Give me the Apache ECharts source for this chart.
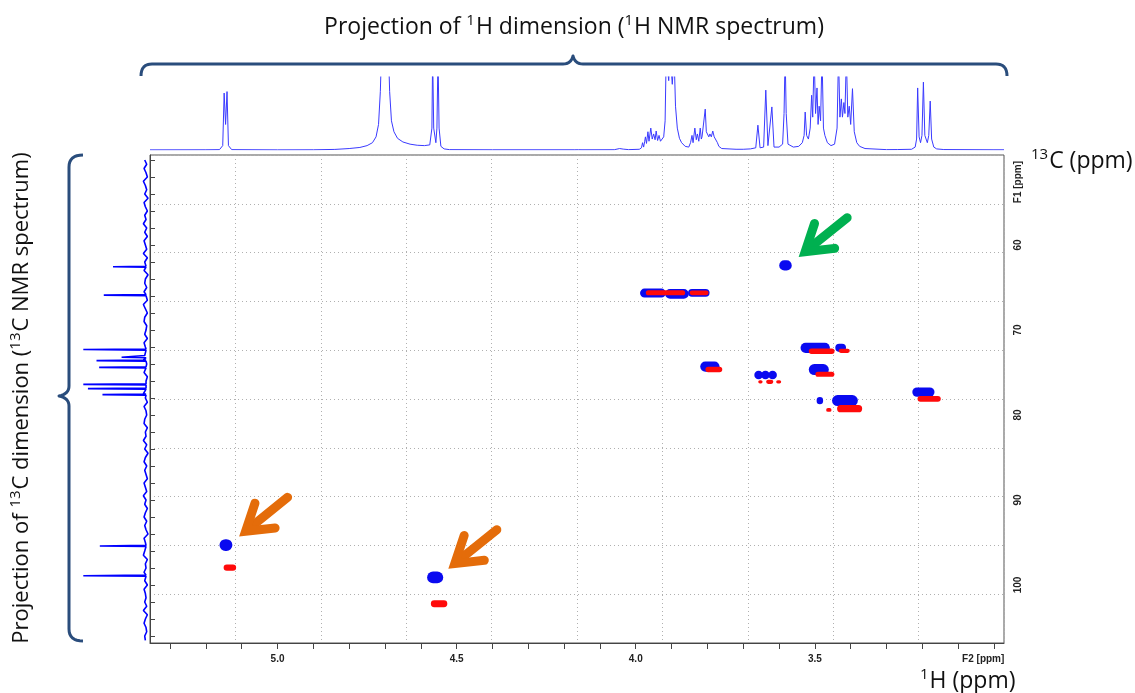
<!DOCTYPE html>
<html><head><meta charset="utf-8">
<script src="https://cdn.jsdelivr.net/npm/echarts@6/dist/echarts.min.js"></script>
<style>html,body{margin:0;padding:0;background:#fff}#c{width:1135px;height:693px}</style>
</head><body><div id="c"></div>
<script>
// ---------- DATA ----------
const hRange = [2.972, 5.356];          // 1H axis (ppm), drawn inverted
const cRange = [49.41, 106.82];         // 13C axis (ppm), drawn inverted
const xTickLabels = ['5.0', '4.5', '4.0', '3.5'];
const xTickValues = [3.0,3.1,3.2,3.3,3.4,3.5,3.6,3.7,3.8,3.9,4.0,4.1,4.2,4.3,4.4,4.5,4.6,4.7,4.8,4.9,5.0,5.1,5.2,5.3];
const yTickLabels = ['60', '70', '80', '90', '100'];
const yTickValues = [50,52,54,56,58,60,62,64,66,68,70,72,74,76,78,80,82,84,86,88,90,92,94,96,98,100,102,104,106];
const xUnitLabel = 'F2 [ppm]';
const yUnitLabel = 'F1 [ppm]';

// HSQC cross peaks: [1H ppm, 13C ppm, 1H extent, 13C extent]
const bluePeaks = [
  [3.952, 65.65, 0.072, 1.05],
  [3.885, 65.75, 0.066, 1.15],
  [3.824, 65.63, 0.060, 0.92],
  [3.582, 62.40, 0.035, 1.20],
  [3.793, 74.30, 0.054, 1.20],
  [3.499, 72.10, 0.082, 1.20],
  [3.428, 72.10, 0.030, 0.95],
  [3.489, 74.65, 0.056, 1.30],
  [3.657, 75.30, 0.024, 1.00],
  [3.638, 75.30, 0.024, 1.00],
  [3.618, 75.30, 0.024, 1.00],
  [3.486, 78.30, 0.018, 0.85],
  [3.416, 78.30, 0.072, 1.30],
  [3.197, 77.30, 0.062, 1.10],
  [5.144, 95.30, 0.036, 1.40],
  [4.560, 99.10, 0.045, 1.40]
];
const redPeaks = [
  [3.917, 65.62, 0.110, 0.60],
  [3.823, 65.62, 0.053, 0.55],
  [3.782, 74.65, 0.047, 0.65],
  [3.481, 72.50, 0.072, 0.65],
  [3.418, 72.45, 0.031, 0.50],
  [3.472, 75.20, 0.053, 0.60],
  [3.652, 76.10, 0.012, 0.40],
  [3.626, 76.10, 0.020, 0.50],
  [3.601, 76.10, 0.014, 0.40],
  [3.461, 79.40, 0.015, 0.45],
  [3.403, 79.25, 0.070, 0.85],
  [3.181, 78.10, 0.065, 0.70],
  [5.133, 97.95, 0.035, 0.75],
  [4.549, 102.20, 0.046, 0.80]
];

// 1H projection: [ppm, relative intensity]
const hSpectrum = [
[5.356,0.002],[5.20,0.003],[5.162,0.005],[5.153,0.06],[5.149,0.78],[5.145,0.35],[5.141,0.80],[5.137,0.06],[5.128,0.005],
[5.00,0.002],[4.90,0.003],[4.84,0.008],[4.80,0.02],[4.77,0.035],[4.75,0.06],[4.735,0.1],[4.725,0.18],[4.718,0.35],[4.713,0.8],
[4.710,1.3],[4.690,1.3],[4.687,0.8],[4.682,0.4],[4.675,0.25],[4.665,0.16],[4.65,0.11],[4.63,0.08],[4.61,0.065],[4.59,0.06],
[4.575,0.07],[4.569,0.3],[4.567,1.3],[4.564,0.3],[4.558,0.1],[4.555,0.3],[4.552,1.3],[4.549,0.3],[4.544,0.05],[4.535,0.015],
[4.52,0.005],[4.40,0.003],[4.398,0.012],[4.395,0.003],[4.17,0.003],[4.165,0.01],[4.16,0.004],[4.155,0.01],[4.15,0.003],
[4.06,0.004],[4.045,0.02],[4.035,0.012],[4.02,0.005],[3.99,0.01],[3.984,0.03],[3.981,0.1],[3.978,0.04],[3.975,0.12],
[3.973,0.18],[3.970,0.09],[3.966,0.25],[3.963,0.12],[3.958,0.3],[3.954,0.15],[3.950,0.22],[3.946,0.14],[3.943,0.26],
[3.939,0.13],[3.935,0.2],[3.931,0.12],[3.927,0.14],[3.922,0.18],[3.918,0.4],[3.915,1.3],[3.908,0.95],[3.904,1.3],
[3.898,0.9],[3.893,1.3],[3.889,0.6],[3.884,0.3],[3.878,0.16],[3.872,0.1],[3.862,0.05],[3.852,0.04],[3.847,0.1],
[3.843,0.2],[3.840,0.1],[3.835,0.3],[3.831,0.14],[3.828,0.22],[3.824,0.12],[3.820,0.3],[3.817,0.15],[3.815,0.18],
[3.810,0.2],[3.806,0.56],[3.803,0.25],[3.800,0.25],[3.796,0.18],[3.793,0.22],[3.789,0.18],[3.785,0.26],[3.781,0.18],
[3.777,0.2],[3.772,0.1],[3.768,0.05],[3.76,0.02],[3.72,0.01],[3.70,0.01],[3.68,0.015],[3.665,0.03],[3.659,0.34],
[3.653,0.03],[3.643,0.04],[3.637,0.82],[3.631,0.06],[3.626,0.06],[3.620,0.59],[3.614,0.04],[3.60,0.04],[3.59,0.08],
[3.586,0.5],[3.583,1.3],[3.580,0.5],[3.575,0.08],[3.56,0.04],[3.545,0.05],[3.535,0.1],[3.530,0.2],[3.527,0.52],
[3.523,0.2],[3.518,0.15],[3.513,0.3],[3.509,0.75],[3.506,0.45],[3.502,1.3],[3.498,0.5],[3.494,0.85],[3.491,0.35],
[3.488,0.6],[3.484,0.4],[3.480,1.3],[3.476,0.3],[3.472,0.2],[3.465,0.1],[3.455,0.06],[3.445,0.08],[3.438,0.3],
[3.434,1.3],[3.430,0.45],[3.426,0.7],[3.423,0.45],[3.419,0.65],[3.416,0.5],[3.412,1.3],[3.408,0.45],[3.404,0.6],
[3.400,0.35],[3.395,0.84],[3.390,0.25],[3.383,0.1],[3.375,0.05],[3.36,0.02],[3.30,0.005],[3.27,0.006],[3.268,0.02],
[3.265,0.005],[3.23,0.01],[3.22,0.04],[3.216,0.15],[3.213,0.85],[3.209,0.18],[3.205,0.1],[3.201,0.2],[3.197,0.93],
[3.193,0.2],[3.186,0.1],[3.182,0.2],[3.178,0.67],[3.174,0.15],[3.168,0.04],[3.16,0.015],[3.14,0.006],[3.0,0.003],[2.972,0.003]
];

// 13C projection: peaks [ppm, intensity] and baseline noise read every 0.5 ppm from 50 ppm
const cPeaks = [[62.55,0.50],[65.90,0.64],[72.30,0.95],[73.20,0.37],[73.60,0.75],[74.40,0.71],[76.40,0.95],[76.90,0.88],[77.60,0.66],[95.40,0.70],[98.90,0.95]];
const cNoiseStart = 50, cNoiseStep = 0.5;
const cNoise = [0.02,-0.01,0.03,0.00,-0.02,0.04,0.01,-0.01,0.02,-0.03,0.03,0.01,-0.02,0.02,0.00,0.04,-0.01,0.02,-0.02,0.03,
0.01,-0.01,0.04,-0.02,0.02,0.00,0.03,-0.03,0.01,0.02,-0.01,0.03,0.00,-0.02,0.04,0.01,-0.02,0.02,0.03,-0.01,
0.00,0.02,-0.02,0.03,0.01,-0.03,0.02,0.04,-0.01,0.01,0.03,-0.02,0.00,0.02,-0.01,0.04,0.01,-0.02,0.03,0.00,
-0.01,0.02,0.03,-0.02,0.01,0.00,0.04,-0.01,0.02,-0.03,0.01,0.03,-0.01,0.02,0.00,-0.02,0.03,0.01,-0.01,0.04,
0.00,0.02,-0.02,0.01,0.03,-0.01,0.02,0.00,-0.03,0.03,0.01,-0.01,0.02,0.04,-0.02,0.01,0.00,0.03,-0.01,0.02,
-0.02,0.03,0.01,0.00,0.02,-0.01,0.04,-0.02,0.01,0.03,0.00,-0.01,0.02,0.01];

// arrows point at these cross peaks
const arrowTargets = [[3.582, 62.40], [5.144, 95.30], [4.560, 99.10]];

// ---------- BUILD ----------
const cPts = cNoise.map((v, i) => [cNoiseStart + cNoiseStep * i, v]);
cPeaks.forEach(p => { cPts.push([p[0] - 0.06, 0.0]); cPts.push([p[0], p[1]]); cPts.push([p[0] + 0.06, 0.0]); });
cPts.sort((a, b) => a[0] - b[0]);
const cLine = cPts.map(p => [p[1], p[0]]);

const chart = echarts.init(document.getElementById('c'), null, {renderer: 'canvas'});
const FONT = '"Open Sans", "Liberation Sans", sans-serif';

function blob(params, api) {
  const c = api.coord([api.value(0), api.value(1)]);
  const s = api.size([api.value(2), api.value(3)]);
  const w = Math.abs(s[0]), h = Math.abs(s[1]);
  return {type: 'rect', shape: {x: c[0] - w / 2, y: c[1] - h / 2, width: w, height: h, r: Math.min(w, h) / 2},
          style: {fill: api.visual('color')}};
}

const gridLine = {show: true, lineStyle: {type: [1, 3], color: '#b0b0b0', width: 1}};

chart.setOption({
  animation: false,
  grid: [
    {left: 150, top: 155, width: 854, height: 488, show: true, borderColor: '#555', borderWidth: 1, backgroundColor: 'transparent'},
    {left: 150, top: 77, width: 854, height: 73},
    {left: 80, top: 155, width: 70, height: 488}
  ],
  xAxis: [
    {gridIndex: 0, type: 'value', inverse: true, min: hRange[0], max: hRange[1], position: 'bottom',
     axisLine: {show: true, lineStyle: {color: '#444'}},
     axisTick: {show: true, customValues: xTickValues, length: 6, lineStyle: {color: '#444'}},
     axisLabel: {show: true, customValues: xTickLabels.map(Number).concat([3.03]), margin: 11,
       formatter: v => (v < 3.2 ? xUnitLabel : v.toFixed(1)),
       fontSize: 10, fontWeight: 'bold', color: '#222', fontFamily: 'Liberation Sans'},
     splitLine: {show: false}},
    {gridIndex: 0, type: 'value', min: 0, max: 10, interval: 1, position: 'top',
     axisLine: {show: false}, axisTick: {show: false}, axisLabel: {show: false}, splitLine: gridLine},
    {gridIndex: 1, type: 'value', inverse: true, min: hRange[0], max: hRange[1], show: false},
    {gridIndex: 2, type: 'value', inverse: true, min: -0.06, max: 1, show: false}
  ],
  yAxis: [
    {gridIndex: 0, type: 'value', inverse: true, min: cRange[0], max: cRange[1], position: 'right',
     axisLine: {show: true, lineStyle: {color: '#444'}},
     axisTick: {show: true, customValues: yTickValues, length: 5, lineStyle: {color: '#444'}},
     axisLabel: {show: true, customValues: [52.6].concat(yTickLabels.map(Number)), rotate: 90, margin: 9,
       formatter: v => (v < 55 ? yUnitLabel : String(v)),
       fontSize: 10, fontWeight: 'bold', color: '#222', fontFamily: 'Liberation Sans'},
     splitLine: {show: false}},
    {gridIndex: 0, type: 'value', min: 0, max: 10, interval: 1, position: 'left',
     axisLine: {show: false}, axisTick: {show: false}, axisLabel: {show: false}, splitLine: gridLine},
    {gridIndex: 1, type: 'value', min: 0, max: 1, show: false},
    {gridIndex: 2, type: 'value', inverse: true, min: cRange[0], max: cRange[1], show: false}
  ],
  series: [
    {type: 'custom', name: 'CH/CH3', xAxisIndex: 0, yAxisIndex: 0, renderItem: blob, clip: true,
     itemStyle: {color: '#0a0af0'}, data: bluePeaks, encode: {x: 0, y: 1}, z: 3},
    {type: 'custom', name: 'CH2', xAxisIndex: 0, yAxisIndex: 0, renderItem: blob, clip: true,
     itemStyle: {color: '#ff0a0a'}, data: redPeaks, encode: {x: 0, y: 1}, z: 4},
    {type: 'line', xAxisIndex: 2, yAxisIndex: 2, data: hSpectrum, showSymbol: false, clip: true,
     lineStyle: {color: '#3a3aff', width: 1}, z: 2},
    {type: 'line', xAxisIndex: 3, yAxisIndex: 3, data: cLine, showSymbol: false, clip: false,
     lineStyle: {color: '#0000ff', width: 1.6}, z: 5}
  ]
});

// ---------- annotations ----------
const BRACE = '#2a4d7c';
// quadratic-curve sampler for the brace outlines (annotation geometry only)
function braceShape(segs) {
  const pts = [segs[0]];
  for (let i = 1; i < segs.length; i++) {
    const s = segs[i];
    if (s.length === 2) { pts.push(s); continue; }
    const p0 = pts[pts.length - 1], c = [s[0], s[1]], p1 = [s[2], s[3]];
    for (let k = 1; k <= 8; k++) {
      const t = k / 8, a = (1 - t) * (1 - t), b = 2 * (1 - t) * t, d = t * t;
      pts.push([a * p0[0] + b * c[0] + d * p1[0], a * p0[1] + b * c[1] + d * p1[1]]);
    }
  }
  return pts;
}
const topBrace = braceShape([[141,76],[141,64,152,64],[563,64],[571,64,573,56],[575,64,583,64],[996,64],[1007,64,1007,76]]);
const leftBrace = braceShape([[83,155],[69,155,69,167],[69,386],[69,394,59,396],[69,398,69,406],[69,629],[69,641,83,641]]);

const sup = {fontSize: 15, fontFamily: FONT, verticalAlign: 'top', lineHeight: 30, padding: [1, 1, 0, 0]};
const nrm = {fontSize: 23, fontFamily: FONT, lineHeight: 30};
function label(id, text, x, y, align, rot, size) {
  const n = Object.assign({}, nrm, size ? {fontSize: size} : {});
  return {type: 'text', id: id, x: x, y: y, rotation: rot || 0, z: 10,
    style: {text: text, rich: {s: sup, n: n}, align: align, verticalAlign: 'middle', fill: '#111', fontSize: 23, fontFamily: FONT}};
}
const graphics = [
  {type: 'polyline', id: 'braceTop', z: 10, shape: {points: topBrace}, style: {stroke: BRACE, lineWidth: 3, fill: null, lineJoin: 'round'}},
  {type: 'polyline', id: 'braceLeft', z: 10, shape: {points: leftBrace}, style: {stroke: BRACE, lineWidth: 3, fill: null, lineJoin: 'round'}},
  label('tTop', '{n|Projection of }{s|1}{n|H dimension (}{s|1}{n|H NMR spectrum)}', 574, 27, 'center'),
  label('tLeft', '{n|Projection of }{s|13}{n|C dimension (}{s|13}{n|C NMR spectrum)}', 22, 398, 'center', Math.PI / 2, 22),
  label('tC', '{s|13}{n|C (ppm)}', 1031, 161, 'left'),
  label('tH', '{s|1}{n|H (ppm)}', 920, 681, 'left')
];
const arrowColors = ['#00b050', '#e46c0a', '#e46c0a'];
arrowTargets.forEach((t, i) => {
  const p = chart.convertToPixel({xAxisIndex: 0, yAxisIndex: 0}, t);
  const tip = [p[0] + 15, p[1] - 10];
  const dx = -47, dy = 38, L = Math.hypot(dx, dy);
  const ux = dx / L, uy = dy / L, nx = -uy, ny = ux;
  const v = [tip[0] - ux * 6, tip[1] - uy * 6];
  const tail = [tip[0] - ux * 60, tip[1] - uy * 60];
  const b1 = [v[0] - ux * 25 + nx * 16, v[1] - uy * 25 + ny * 16];
  const b2 = [v[0] - ux * 25 - nx * 16, v[1] - uy * 25 - ny * 16];
  const col = arrowColors[i];
  graphics.push({type: 'line', id: 'as' + i, z: 20, shape: {x1: tail[0], y1: tail[1], x2: v[0] - ux * 6, y2: v[1] - uy * 6},
    style: {stroke: col, lineWidth: 9, lineCap: 'round'}});
  graphics.push({type: 'polyline', id: 'ah' + i, z: 20, shape: {points: [b1, v, b2]},
    style: {stroke: col, lineWidth: 9, lineCap: 'round', lineJoin: 'miter', miterLimit: 10, fill: null}});
});
chart.setOption({graphic: graphics});
</script>
</body></html>
